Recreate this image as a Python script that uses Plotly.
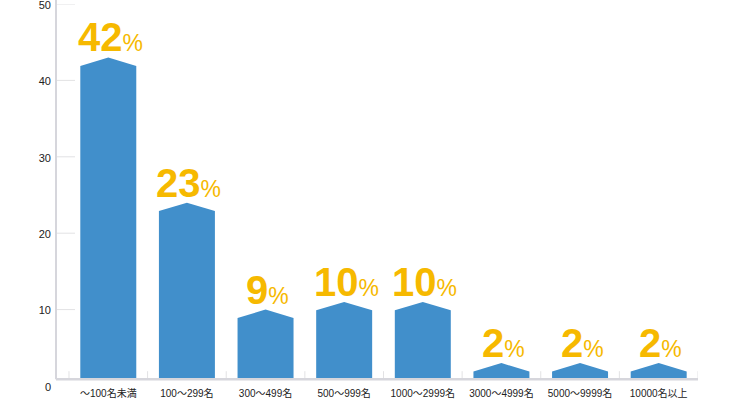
import plotly.graph_objects as go

categories = ["〜100名未満", "100〜299名", "300〜499名", "500〜999名",
              "1000〜2999名", "3000〜4999名", "5000〜9999名", "10000名以上"]
values = [42, 23, 9, 10, 10, 2, 2, 2]
y_ticks = [0, 10, 20, 30, 40, 50]

BAR_COLOR = "#418FCB"
LABEL_COLOR = "#F6B900"
AXIS_COLOR = "#D6D6DC"
TICK_COLOR = "#E2E2E4"
BASE = 0.89        # baseline sits slightly above the value 0
HALF_W = 0.356     # half bar width in category units
SHOULDER = -0.1
PEAK = 1.0

fig = go.Figure()

for i, v in enumerate(values):
    xs = [i - HALF_W, i - HALF_W, i, i + HALF_W, i + HALF_W, i - HALF_W]
    ys = [BASE, v + SHOULDER, v + PEAK, v + SHOULDER, BASE, BASE]
    fig.add_trace(go.Scatter(x=xs, y=ys, mode="lines", fill="toself",
                             fillcolor=BAR_COLOR, line=dict(width=0),
                             hoverinfo="skip", showlegend=False))
    fig.add_annotation(x=i, y=v + PEAK, xref="x", yref="y",
                       text=f"<b>{v}</b><span style='font-size:23px'>%</span>",
                       showarrow=False, yanchor="bottom", xanchor="center",
                       yshift=-4, xshift=2,
                       font=dict(family="Liberation Sans, Arial, sans-serif",
                                 size=40, color=LABEL_COLOR))

# short y tick marks (inside)
for tv in y_ticks[1:]:
    fig.add_shape(type="line", xref="paper", yref="y", x0=0, x1=19 / 642,
                  y0=tv, y1=tv, line=dict(color=TICK_COLOR, width=1))

# category boundary ticks
for k in range(len(categories) + 1):
    fig.add_shape(type="line", xref="x", yref="y", x0=k - 0.5, x1=k - 0.5,
                  y0=BASE, y1=BASE + 1.05, line=dict(color=TICK_COLOR, width=1))

# vertical axis line
fig.add_shape(type="line", xref="paper", yref="paper", x0=0, x1=0,
              y0=BASE / 50, y1=1.02, line=dict(color=AXIS_COLOR, width=2))
# baseline
fig.add_shape(type="line", xref="paper", yref="y", x0=0, x1=1,
              y0=BASE, y1=BASE, line=dict(color=AXIS_COLOR, width=2.5))

fig.update_layout(
    width=737, height=399,
    margin=dict(l=56, r=39, t=4, b=13, autoexpand=False),
    paper_bgcolor="white", plot_bgcolor="white",
    font=dict(family="Liberation Sans, Noto Sans CJK JP, sans-serif", color="#222222"),
    xaxis=dict(range=[-0.665, 7.5], tickmode="array",
               tickvals=list(range(len(categories))), ticktext=categories,
               showgrid=False, zeroline=False, showline=False, ticks="", ticklen=0,
               ticklabelstandoff=0, ticklabeloverflow="allow",
               tickfont=dict(size=10, color="#222222"), fixedrange=True),
    yaxis=dict(range=[0, 50], tickmode="array", tickvals=y_ticks,
               showgrid=False, zeroline=False, showline=False, ticks="", ticklen=0,
               ticklabelstandoff=4, ticklabelshift=1, ticklabeloverflow="allow",
               tickfont=dict(size=11, color="#222222"), fixedrange=True),
)

fig.write_html("out.html", config={"displayModeBar": False},
               post_script="document.body.style.margin='0';document.body.style.overflow='hidden';")
